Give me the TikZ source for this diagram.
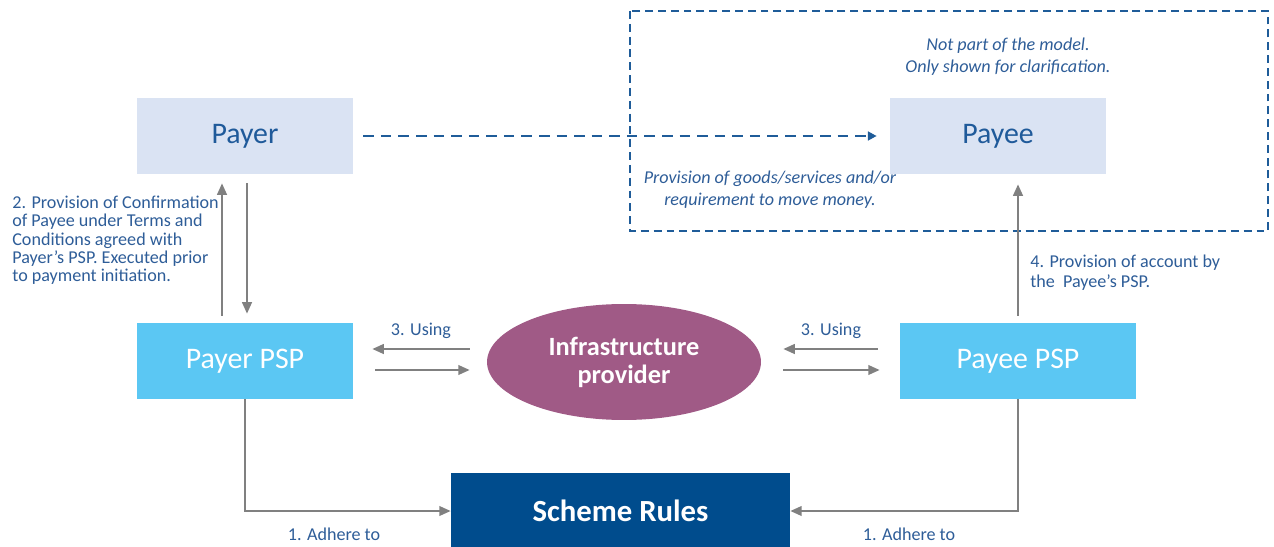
\documentclass[tikz,border=0pt]{standalone}
\usepackage{fontspec}
\setmainfont{Carlito}
\usetikzlibrary{calc}
\usetikzlibrary{shapes.geometric}
\usetikzlibrary{arrows.meta}

\definecolor{boxgrey}{HTML}{DAE3F3}
\definecolor{pspblue}{HTML}{5BC7F3}
\definecolor{infrapurple}{HTML}{A05A86}
\definecolor{schemeblue}{HTML}{004C8D}
\definecolor{textblue}{HTML}{2E5D98}
\definecolor{darkblue}{HTML}{1F5A9A}
\definecolor{arrowgrey}{HTML}{808080}
\definecolor{dashblue}{HTML}{1F5C99}

\begin{document}
\begin{tikzpicture}[x=0.02cm, y=-0.02cm,
  party/.style={fill=boxgrey, text=darkblue, minimum width=4.32cm, minimum height=1.52cm, font=\fontsize{17}{20}\selectfont},
  psp/.style={fill=pspblue, text=white, minimum height=1.52cm, font=\fontsize{17}{20}\selectfont},
  note/.style={text=textblue, font=\fontsize{10.3}{10.3}\selectfont, inner sep=0pt},
  slanted/.style={note, align=center, font=\itshape\fontsize{10.3}{12.5}\selectfont},
  flow/.style={draw=arrowgrey, line width=1.1pt, -{Triangle[length=6.5pt,width=5.5pt]}}]
  \useasboundingbox (0,0) rectangle (1274,547);

  \draw[dashblue, line width=1.1pt, dash pattern=on 4.5pt off 2.8pt] (630,11) rectangle (1268,231);

  \node[party] (payer) at (245,136) {Payer};
  \node[party, yshift=0pt] (payee) at (998,136) {Payee};
  \node[psp, minimum width=4.32cm] (payerpsp) at (245,361) {Payer PSP};
  \node[psp, minimum width=4.72cm] (payeepsp) at (1018,361) {Payee PSP};
  \node[ellipse, fill=infrapurple, text=white, minimum width=5.48cm, minimum height=2.32cm,
        inner sep=0pt, align=center, font=\bfseries\fontsize{15}{16}\selectfont] (infra) at (624,362) {Infrastructure\\provider};
  \node[fill=schemeblue, text=white, minimum width=6.78cm, minimum height=1.52cm,
        font=\bfseries\fontsize{17.5}{20}\selectfont] (scheme) at (620.5,511) {Scheme Rules};

  \draw[dashblue, line width=1.3pt, dash pattern=on 6pt off 4pt, -{Triangle[length=5pt,width=5pt]},
        shorten <=0.2cm, shorten >=0.26cm] (payer.east) -- (payee.west);

  \draw[flow, shorten <=0.14cm, shorten >=0.18cm] ($(payerpsp.north)+(-23,0)$) -- ($(payer.south)+(-23,0)$);
  \draw[flow, shorten <=0.18cm, shorten >=0.18cm] ($(payer.south)+(2,0)$) -- ($(payerpsp.north)+(2,0)$);
  \draw[flow, shorten <=0.14cm, shorten >=0.2cm] (payeepsp.north) -- (payeepsp.north |- payee.south);

  \draw[flow] ($(infra.west)+(-17,-13)$) -- ($(payerpsp.east)+(19,-12)$);
  \draw[flow] ($(payerpsp.east)+(22,9)$) -- ($(infra.west)+(-17,8)$);
  \draw[flow] ($(payeepsp.west)+(-22,-12)$) -- ($(infra.east)+(22,-13)$);
  \draw[flow] ($(infra.east)+(22,8)$) -- ($(payeepsp.west)+(-20,9)$);

  \draw[flow] (payerpsp.south) |- (scheme.west);
  \draw[flow] (payeepsp.south) |- (scheme.east);

  \node[note, anchor=north west, align=left] (confirmnote) at (12,196)
    {2. Provision of Confirmation\\of Payee under Terms and\\Conditions agreed with\\Payer's PSP. Executed prior\\to payment initiation.};
  \node[note, anchor=north west, align=left, font=\fontsize{10.3}{11.3}\selectfont] (accountnote) at (1030,255)
    {4. Provision of account by\\the\ \ Payee's PSP.};
  \node[note] (usingleft) at (421,331) {3. Using};
  \node[note] (usingright) at (831,331) {3. Using};
  \node[note] (adhereleft) at (334,534) {1. Adhere to};
  \node[note] (adhereright) at (909,534) {1. Adhere to};
  \node[slanted] (modelnote) at (1008,57) {Not part of the model.\\Only shown for clarification.};
  \node[slanted] (goodsnote) at (770,190) {Provision of goods/services and/or\\requirement to move money.};

\end{tikzpicture}
\end{document}
